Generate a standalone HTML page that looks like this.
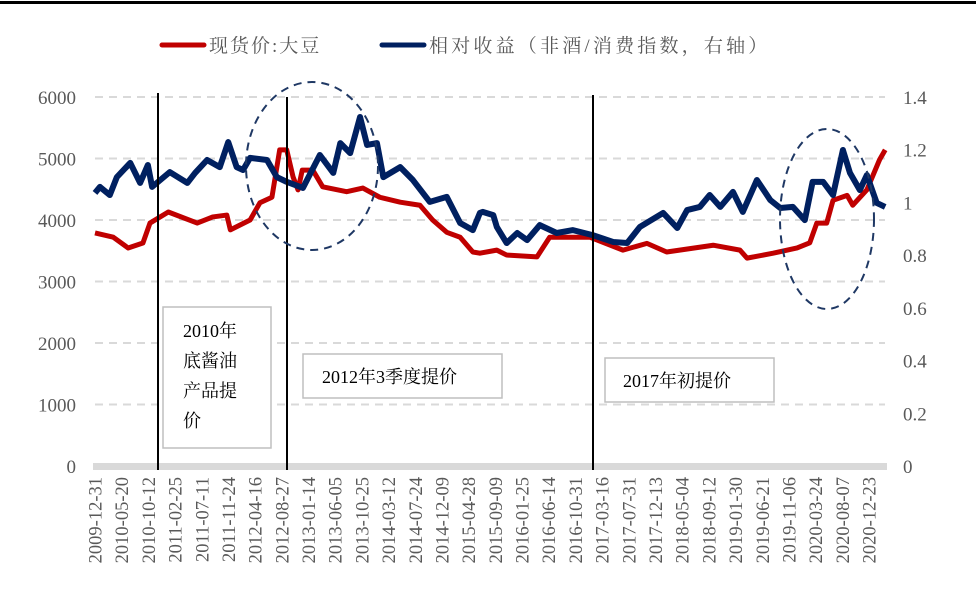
<!DOCTYPE html>
<html><head><meta charset="utf-8">
<style>
html,body{margin:0;padding:0;background:#fff;}
svg{display:block;font-family:"Liberation Serif","Noto Serif CJK SC",serif;}
</style></head>
<body>
<svg id="chart" width="976" height="599" viewBox="0 0 976 599" xmlns="http://www.w3.org/2000/svg">
<rect x="0" y="1" width="976" height="3" fill="#000"/>
<g id="grid"></g>
<g id="axes"></g>
<g id="marks"></g>
<g id="annot"></g>
<g>
  <g>
    <line x1="162" y1="45" x2="204" y2="45" stroke="#c00000" stroke-width="5" stroke-linecap="round"/>
    <text x="209" y="52" font-size="19" letter-spacing="2" fill="#595959">现货价:大豆</text>
  </g>
  <g>
    <line x1="382" y1="45" x2="424" y2="45" stroke="#002060" stroke-width="5" stroke-linecap="round"/>
    <text x="429" y="52" font-size="19" letter-spacing="3.2" fill="#595959">相对收益（非酒/消费指数，右轴）</text>
  </g>
</g>
</svg>
<script>
const leftTicks=[0,1000,2000,3000,4000,5000,6000];
const rightTicks=["0","0.2","0.4","0.6","0.8","1","1.2","1.4"];
const xLabels=["2009-12-31","2010-05-20","2010-10-12","2011-02-25","2011-07-11","2011-11-24","2012-04-16","2012-08-27","2013-01-14","2013-06-05","2013-10-25","2014-03-12","2014-07-24","2014-12-09","2015-04-28","2015-09-09","2016-01-25","2016-06-14","2016-10-31","2017-03-16","2017-07-31","2017-12-13","2018-05-04","2018-09-12","2019-01-30","2019-06-21","2019-11-06","2020-03-24","2020-08-07","2020-12-23"];
// years elapsed since 2009-12-31
const soyT=[0,.26,.47,.68,.78,1.04,1.45,1.67,1.87,1.92,2.20,2.34,2.51,2.62,2.72,2.81,2.88,2.94,3.09,3.23,3.57,3.80,4.04,4.33,4.61,4.79,4.99,5.18,5.36,5.46,5.70,5.84,6.27,6.45,7.02,7.49,7.83,8.11,8.77,9.15,9.25,9.62,9.96,10.14,10.24,10.38,10.47,10.67,10.75,10.95,11.13,11.21];
const soyV=[3790,3720,3545,3626,3950,4130,3950,4050,4080,3840,4000,4280,4370,5140,5140,4700,4490,4810,4810,4540,4460,4520,4370,4290,4240,4000,3800,3720,3480,3460,3510,3430,3400,3720,3720,3510,3620,3480,3590,3510,3380,3460,3545,3630,3950,3950,4320,4400,4240,4490,4980,5140];
const relT=[0,.07,.21,.31,.50,.64,.75,.81,1.06,1.31,1.42,1.59,1.77,1.89,2.01,2.10,2.20,2.44,2.58,2.72,2.95,3.19,3.38,3.48,3.62,3.76,3.86,4.00,4.09,4.33,4.51,4.75,4.99,5.18,5.36,5.46,5.50,5.65,5.70,5.84,5.99,6.13,6.31,6.55,6.78,7.06,7.35,7.55,7.73,8.06,8.26,8.40,8.58,8.72,8.87,9.05,9.19,9.39,9.58,9.72,9.90,10.07,10.18,10.33,10.47,10.61,10.71,10.85,10.95,11.09,11.21];
const relV=[1.036,1.059,1.028,1.096,1.150,1.074,1.142,1.059,1.115,1.074,1.112,1.161,1.134,1.229,1.134,1.123,1.169,1.161,1.096,1.078,1.055,1.180,1.112,1.225,1.187,1.324,1.218,1.225,1.096,1.134,1.085,1.002,1.021,0.922,0.895,0.960,0.964,0.952,0.907,0.846,0.884,0.857,0.914,0.884,0.895,0.876,0.850,0.846,0.907,0.960,0.903,0.971,0.983,1.028,0.983,1.040,0.964,1.085,1.009,0.979,0.983,0.933,1.078,1.078,1.028,1.199,1.112,1.047,1.104,0.998,0.983];

const NS="http://www.w3.org/2000/svg";
const X0=95,X1=885,Y0=466,Y1=97;
const xOfT=t=>X0+t*70.49;
const yL=v=>Y0-(v/6000)*(Y0-Y1);
const yR=v=>Y0-(v/1.4)*(Y0-Y1);
function mk(tag,attrs,parent,txt){const e=document.createElementNS(NS,tag);for(const k in attrs)e.setAttribute(k,attrs[k]);if(txt!==undefined)e.textContent=txt;parent.appendChild(e);return e;}
const grid=document.getElementById('grid'),axes=document.getElementById('axes'),marks=document.getElementById('marks'),annot=document.getElementById('annot');
leftTicks.forEach((v,i)=>{
  if(v>0){const g=mk('line',{x1:X0,x2:X1,y1:yL(v),y2:yL(v),stroke:'#d9d9d9','stroke-width':2,'stroke-dasharray':'8,6'},grid);
  
  }
  const t=mk('text',{x:76,y:yL(v)+7,'text-anchor':'end','font-size':19,fill:'#595959'},axes,String(v));
  
  
});
rightTicks.forEach(s=>{
  const t=mk('text',{x:903,y:yR(parseFloat(s))+7,'font-size':19,fill:'#595959'},axes,s);
  
  
});
const ax=mk('rect',{x:X0-2,y:Y0-3,width:X1-X0+4,height:7,fill:'#d9d9d9'},axes);


xLabels.forEach((s,i)=>{
  const cx=95+i*26.69;
  const t=mk('text',{x:0,y:0,transform:`translate(${cx+6.5},477) rotate(-90)`,'text-anchor':'end','font-size':18.5,fill:'#595959'},axes,s);
  
  
});
[[158,93],[287,97],[593,95]].forEach(([x,y])=>{
  const l=mk('line',{x1:x,x2:x,y1:y,y2:470,stroke:'#000','stroke-width':2},annot);
  
  
});
const soy=mk('polyline',{points:soyT.map((t,i)=>xOfT(t)+','+yL(soyV[i])).join(' '),fill:'none',stroke:'#c00000','stroke-width':5,'stroke-linejoin':'round'},marks);


const rel=mk('polyline',{points:relT.map((t,i)=>xOfT(t)+','+yR(relV[i])).join(' '),fill:'none',stroke:'#002060','stroke-width':6,'stroke-linejoin':'round'},marks);


const e1=mk('ellipse',{cx:312,cy:166,rx:66,ry:84,fill:'none',stroke:'#1f3864','stroke-width':2,'stroke-dasharray':'8,6'},annot);


const e2=mk('ellipse',{cx:827,cy:219,rx:47,ry:90,fill:'none',stroke:'#1f3864','stroke-width':2,'stroke-dasharray':'8,6'},annot);


function box(name,x,y,w,h,lines,tx,ty,lh){
  const g=mk('g',{},annot);
  
  
  mk('rect',{x,y,width:w,height:h,fill:'#fff',stroke:'#bfbfbf','stroke-width':1.5},g);
  lines.forEach((s,i)=>mk('text',{x:tx,y:ty+i*lh,'font-size':18,fill:'#000'},g,s));
}
box('annotation-2010',163,307,108,141,['2010年','底酱油','产品提','价'],183,337,30);
box('annotation-2012',303,354,199,44,['2012年3季度提价'],322,383,0);
box('annotation-2017',605,358,169,44,['2017年初提价'],623,387,0);
</script>
</body></html>
